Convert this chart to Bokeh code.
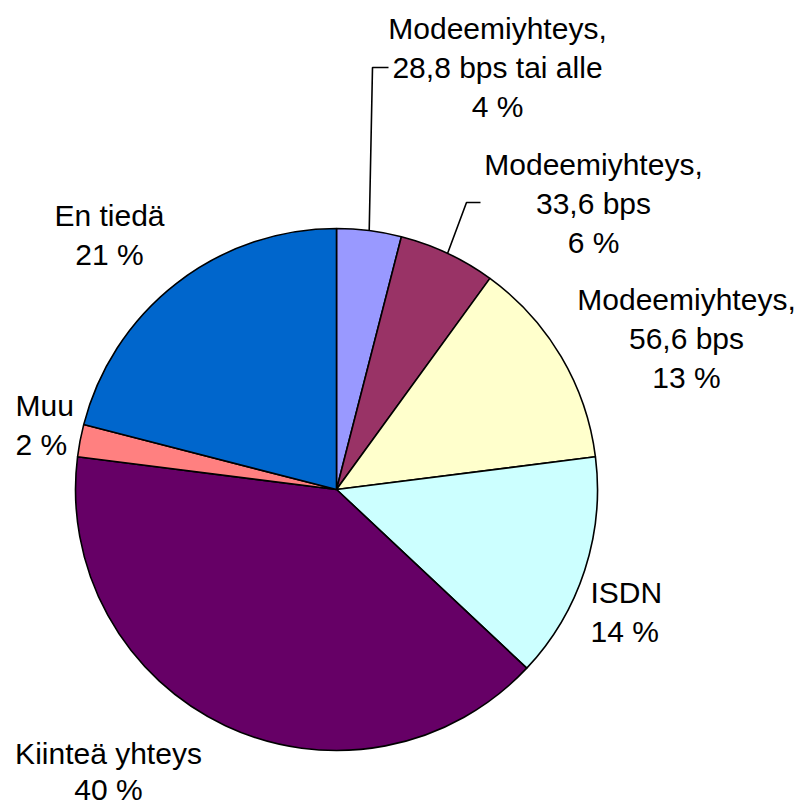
import math
from bokeh.plotting import figure
from bokeh.models import Range1d, ColumnDataSource
from bokeh.core.properties import value
from bokeh.embed import file_html
from bokeh.resources import INLINE

# ---- data ----
categories = ["Modeemiyhteys,\n28,8 bps tai alle", "Modeemiyhteys,\n33,6 bps",
              "Modeemiyhteys,\n56,6 bps", "ISDN", "Kiinteä yhteys", "Muu", "En tiedä"]
shares = [4, 6, 13, 14, 40, 2, 21]
colors = ["#9999FF", "#993366", "#FFFFCC", "#CCFFFF", "#660066", "#FF8080", "#0066CC"]

# ---- layout (image pixel coordinates -> data coords centred on pie) ----
CX, CY, R = 336, 489, 261
W, H = 795, 805
OX, OY = 0, 0


def X(ix):
    return ix - CX


def Y(iy):
    return CY - iy


p = figure(width=W, height=H, output_backend="svg", toolbar_location=None,
           x_range=Range1d(X(OX), X(OX + W)), y_range=Range1d(Y(OY + H), Y(OY)),
           min_border=0)
p.axis.visible = False
p.grid.visible = False
p.outline_line_color = None
p.background_fill_color = "white"

total = sum(shares)
starts, ends, mids = [], [], []
cum = 0
for v in shares:
    a0 = math.pi / 2 - 2 * math.pi * cum / total
    a1 = math.pi / 2 - 2 * math.pi * (cum + v) / total
    starts.append(a0)
    ends.append(a1)
    mids.append((a0 + a1) / 2)
    cum += v

src = ColumnDataSource(dict(start=starts, end=ends, color=colors))
p.wedge(x=0, y=0, radius=R, start_angle="start", end_angle="end", direction="clock",
        fill_color="color", line_color="black", line_width=1.6, source=src)

# leader lines for the two small slices
leaders = {0: (388, 67, 372), 1: (480, 202, 466)}
for i, (xe, ye, xk) in leaders.items():
    ex, ey = R * math.cos(mids[i]), R * math.sin(mids[i])
    p.line([X(xe), X(xk), ex], [Y(ye), Y(ye), ey], line_color="black", line_width=1.6)

# label placement: (anchor x, first line y, align, line pitch)
label_pos = [(497, 28, "center", 39), (593, 164, "center", 39), (686, 299, "center", 39),
             (590, 592, "left", 39), (108, 753, "center", 36), (15, 405, "left", 39),
             (109, 215, "center", 39)]
tx, ty, tt, ta = [], [], [], []
for cat, v, (ax, ay, al, pitch) in zip(categories, shares, label_pos):
    lines = cat.split("\n") + [f"{v} %"]
    for k, ln in enumerate(lines):
        tx.append(X(ax))
        ty.append(Y(ay + k * pitch))
        tt.append(ln)
        ta.append(al)

tsrc = ColumnDataSource(dict(x=tx, y=ty, text=tt, align=ta))
p.text(x="x", y="y", text="text", text_align="align", text_baseline="middle",
       text_font=value("Liberation Sans"), text_font_size="30px", text_color="black",
       source=tsrc)

open("out.html", "w").write(file_html(p, INLINE))
